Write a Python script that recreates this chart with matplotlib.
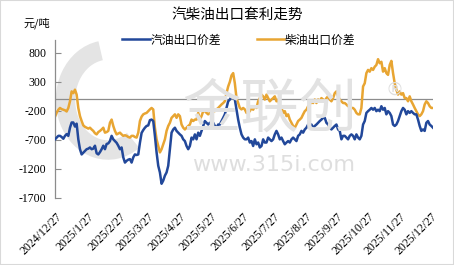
import matplotlib
matplotlib.use("Agg")
import matplotlib.pyplot as plt
import matplotlib.dates as mdates
from matplotlib.patches import Arc, Rectangle
import pandas as pd

# 汽柴油出口价差（元/吨），近似每1.6天一个点
gasoline = [
    -690, -660, -630, -630, -650, -680, -630, -600, -630, -490,
    -400, -400, -470, -420, -690, -860, -950, -920, -890, -860,
    -850, -830, -860, -850, -800, -930, -950, -910, -860, -800,
    -860, -770, -760, -720, -630, -690, -720, -750, -800, -860,
    -830, -1000, -1090, -1060, -1040, -1030, -1090, -1000, -950, -960,
    -950, -750, -580, -530, -490, -460, -450,
    -360, -350, -375, -630, -915, -1145, -1260, -1455, -1400, -1315,
    -1260, -1145, -860, -575, -520, -490, -545, -575, -605, -630,
    -690, -720, -805, -860, -805, -660, -690, -605, -690, -575,
    -630, -545, -460, -375, -405, -435, -405, -435, -405, -460,
    -490, -435, -435, -375, -320, -260, -150, -35, -5, 50,
    20, -5, -175, -350, -490, -605, -660, -690,
    -690, -660, -745, -720, -805, -690, -775, -745, -830, -805,
    -690, -745, -745, -660, -690, -720, -690, -605, -545, -605,
    -690, -660, -720, -775, -745, -720, -745, -690, -660, -690,
    -720, -630, -605, -545, -575, -520, -490, -435, -460, -435,
    -490, -460, -435, -405, -375, -350, -320, -320, -405, -435,
    -490, -520, -490, -460, -435, -520, -545,
    -690, -630, -630, -660, -690, -630, -605, -630, -690, -605,
    -660, -690, -630, -435, -375, -235, -205, -180, -150, -180,
    -150, -205, -180, -205, -120, -180, -150, -260, -205, -235,
    -290, -435, -460, -435, -375, -290, -205, -150, -180, -260,
    -205, -235, -205, -235, -260, -260, -350, -460, -545, -520,
    -545, -405, -375, -435, -460, -490,
]
diesel = [
    -300, -230, -180, -150, -170, -180, -190, -210, -150, -35,
    135, 105, 165, 80, -150, -290, -375, -450, -475, -490,
    -505, -490, -520, -545, -585, -605, -565, -545, -520, -490,
    -575, -565, -545, -405, -350, -460, -545, -605, -590, -575,
    -605, -630, -620, -630, -650, -660, -630, -630, -650, -660,
    -575, -375, -300, -260, -245, -235, -205,
    -175, -150, -175, -490, -690, -805, -915, -860, -775, -690,
    -545, -460, -405, -320, -290, -260, -320, -260, -290, -435,
    -490, -520, -490, -460, -435, -350, -375, -350, -350, -235,
    -350, -290, -205, -205, -235, -260, -235, -235, -205, -205,
    -175, -150, -120, -90, -65, -35, 105, 220, 300, 410,
    450, 275, 20, -65, -150, -175, -150, -175,
    -235, -235, -205, -150, -180, -120, -150, -35, 20, 80,
    50, -5, 80, 20, -35, -5, 20, 50, -35, -5,
    -120, -150, -235, -205, -290, -260, -350, -405, -460, -490,
    -435, -375, -350, -320, -260, -205, -180, -120, -90, -35,
    -65, -5, -65, -5, -35, 20, -5, -35, 20, 50,
    -5, -35, 20, 105, 135, 50, -5,
    -35, -65, -65, -90, -120, -120, -150, -150, -180, -235,
    -260, -260, -150, 220, 275, 450, 505, 475, 535, 505,
    560, 590, 690, 620, 645, 475, 535, 450, 420, 590,
    660, 450, 275, 165, 80, 135, 80, 105, 20, 20,
    -35, 50, -35, -90, -150, -205, -260, -290, -260, -205,
    -90, -35, -65, -120, -150, -150,
]
dates = pd.date_range("2024-12-26", "2025-12-29", periods=len(gasoline))
tick_dates = pd.date_range("2024-12-27", "2025-12-27", freq="MS") + pd.Timedelta(days=26)
tick_dates = [pd.Timestamp("2024-12-27")] + list(tick_dates)
tick_labels = [f"{d.year}/{d.month}/{d.day}" for d in tick_dates]
yticks = [800, 300, -200, -700, -1200, -1700]

cjk = ["Noto Sans CJK SC", "DejaVu Sans"]
serif = "Liberation Serif"
blue = "#22489A"
orange = "#E8A532"

fig = plt.figure(figsize=(4.54, 2.65), dpi=100)
ax = fig.add_axes([55 / 454, 67 / 265, 378 / 454, 158 / 265])

# watermark
fig.add_artist(Arc((108 / 454, 1 - 100 / 265), 85 / 454, 100 / 265, theta1=95, theta2=290,
                   lw=14, color="#E4E4E4", transform=fig.transFigure, zorder=0))
fig.text(270 / 454, 1 - 110 / 265, "金联创", family=cjk, fontsize=42, color="#E2E2E2",
         ha="center", va="center", zorder=0)
fig.text(274 / 454, 1 - 165 / 265, "www.315i.com", fontsize=16, color="#DEDEDE",
         ha="center", va="center", zorder=0)
fig.text(395 / 454, 1 - 90 / 265, "®", fontsize=13, color="#DEDEDE",
         ha="center", va="center", zorder=0)
ax.patch.set_alpha(0)

ax.axhline(0, color="#8C8C8C", lw=0.9, zorder=1)
ax.plot(dates, gasoline, color=blue, lw=1.8, label="汽油出口价差", zorder=3)
ax.plot(dates, diesel, color=orange, lw=1.8, label="柴油出口价差", zorder=2)

ax.set_xlim(dates[0], dates[-1])
ax.set_ylim(-1700, 1020)
ax.set_yticks(yticks)
ax.set_yticklabels([str(v) for v in yticks], family=serif, fontsize=8.5)
ax.set_xticks(tick_dates)
ax.set_xticklabels(tick_labels, family=serif, fontsize=8.5, rotation=45,
                   ha="right", va="top", rotation_mode="anchor")
ax.tick_params(axis="y", direction="in", length=4, pad=6, color="#8C8C8C")
ax.tick_params(axis="x", length=0, pad=9)
for s in ["top", "right", "bottom"]:
    ax.spines[s].set_visible(False)
ax.spines["left"].set_color("#8C8C8C")
ax.spines["left"].set_linewidth(0.9)

fig.text(237 / 454, 1 - 15 / 265, "汽柴油出口套利走势", family=cjk, fontsize=10.5,
         ha="center", va="center")
fig.text(24 / 454, 1 - 23 / 265, "元/吨", family=cjk, fontsize=8, ha="left", va="center")
fig.legend(loc="center", bbox_to_anchor=(239 / 454, 1 - 40 / 265), ncol=2, frameon=False,
           prop={"family": cjk, "size": 8.5}, handlelength=2.3, handletextpad=0.1,
           columnspacing=3.0, borderaxespad=0)

fig.add_artist(Rectangle((0, 0), 1, 1, transform=fig.transFigure, fill=False,
                         edgecolor="#D9D9D9", lw=1.5))
fig.savefig("out.png", dpi=100)
